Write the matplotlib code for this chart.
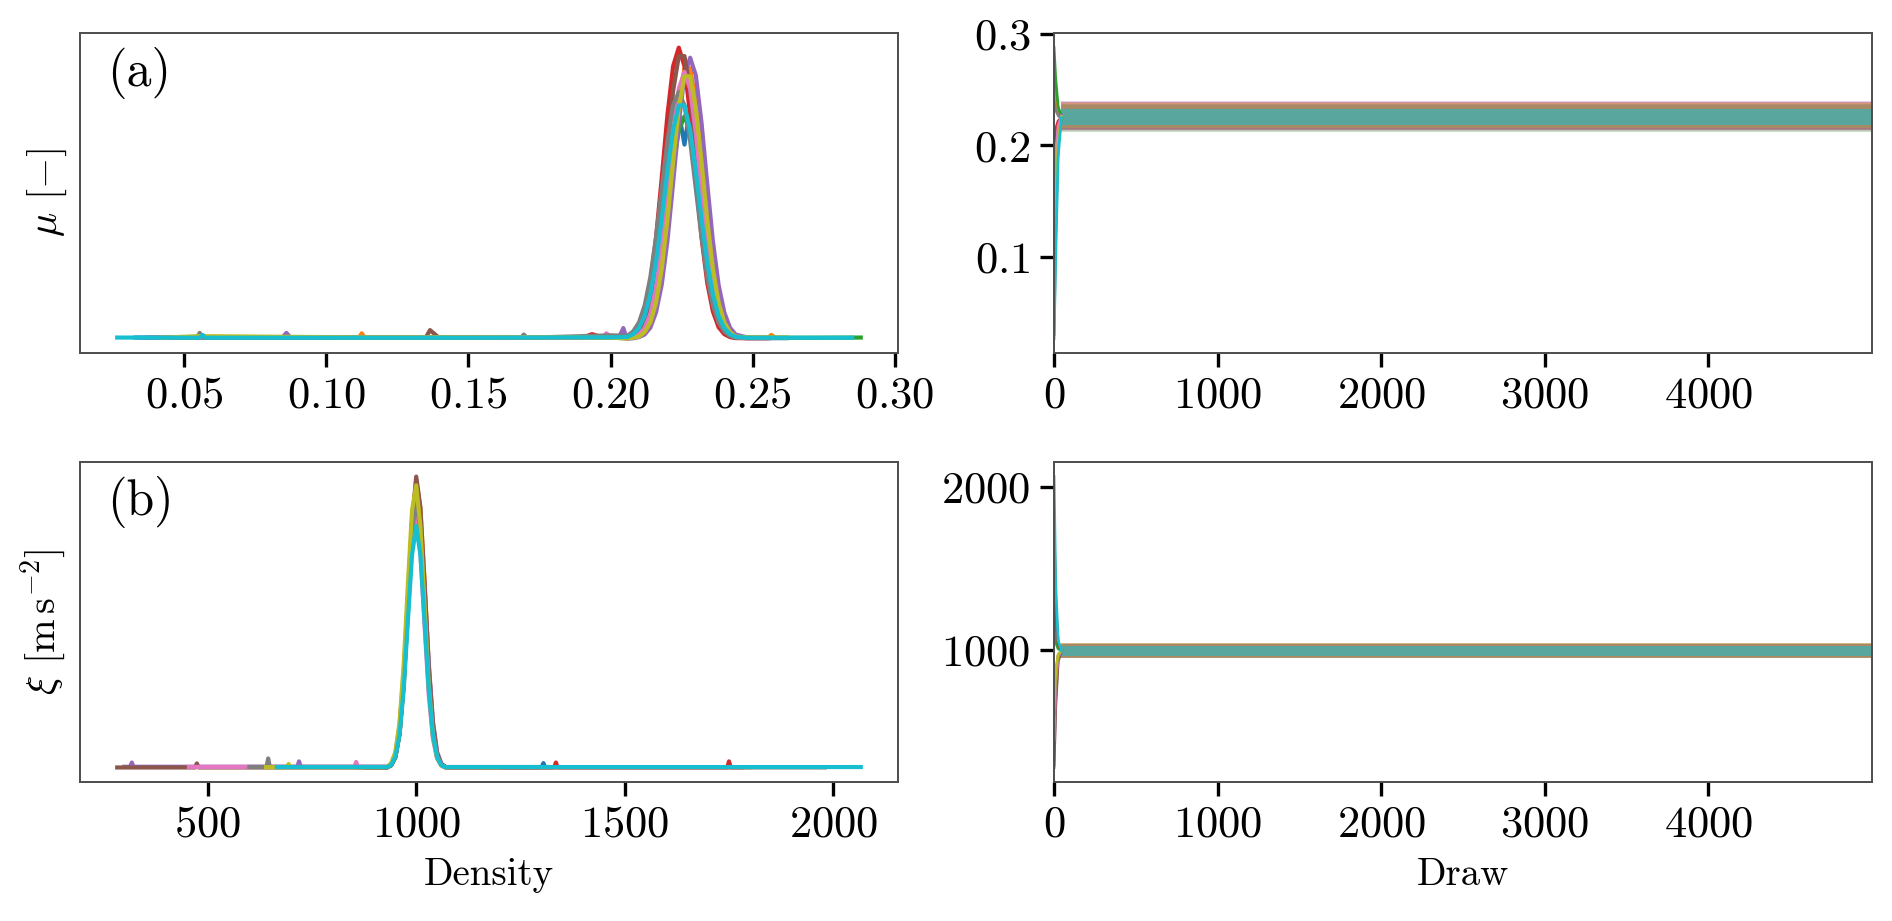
import matplotlib
matplotlib.use("Agg")
import matplotlib.pyplot as plt

plt.rcParams.update({
    "font.family": "serif",
    "font.serif": ["cmr10"],
    "mathtext.fontset": "cm",
    "axes.formatter.use_mathtext": True,
    "axes.unicode_minus": False,
})

N_CHAINS = 10
LAST_DRAW = 4999

# ---- mu : per-chain density (KDE) ----
mu_grid = [0.206, 0.208, 0.210, 0.212, 0.214, 0.216, 0.218, 0.220, 0.222, 0.224,
           0.226, 0.228, 0.230, 0.232, 0.234, 0.236, 0.238, 0.240, 0.242, 0.244]
mu_peak = [
    [0.1, 0.3, 0.9, 2.3, 5.4, 11.1, 20.1, 32.0, 44.5, 56.0, 48.0, 57.0, 44.5, 32.0, 20.1, 11.1, 5.4, 2.3, 0.9, 0.3],
    [0.05, 0.2, 0.5, 1.6, 4.1, 9.2, 17.8, 30.3, 45.0, 58.6, 66.9, 66.9, 58.6, 45.0, 30.3, 17.8, 9.2, 4.1, 1.6, 0.5],
    [0.1, 0.3, 0.8, 2.1, 5.1, 10.5, 19.1, 30.4, 42.2, 51.5, 55.0, 51.5, 42.2, 30.4, 19.1, 10.5, 5.1, 2.1, 0.8, 0.3],
    [0.36, 1.1, 2.8, 6.7, 13.8, 25.0, 39.7, 55.3, 67.4, 72.0, 67.4, 55.3, 39.7, 25.0, 13.8, 6.7, 2.8, 1.1, 0.36, 0.1],
    [0.02, 0.07, 0.35, 1.0, 2.7, 6.5, 13.3, 24.1, 38.4, 53.4, 65.1, 69.5, 65.1, 53.4, 38.4, 24.1, 13.3, 6.5, 2.7, 1.0],
    [0.2, 0.6, 1.7, 4.3, 9.6, 18.6, 31.6, 47.0, 61.2, 69.9, 69.9, 61.2, 47.0, 31.6, 18.6, 9.6, 4.3, 1.7, 0.6, 0.2],
    [0.07, 0.3, 1.0, 2.6, 6.1, 12.6, 22.9, 36.4, 50.7, 61.8, 66.0, 61.8, 50.7, 36.4, 22.9, 12.6, 6.1, 2.6, 1.0, 0.3],
    [0.7, 1.8, 4.0, 8.2, 15.2, 25.1, 37.0, 48.9, 57.7, 61.0, 57.7, 48.9, 37.0, 25.1, 15.2, 8.2, 4.0, 1.8, 0.7, 0.24],
    [0.07, 0.2, 0.5, 1.6, 4.0, 8.9, 17.3, 29.4, 43.7, 56.9, 64.9, 64.9, 56.9, 43.7, 29.4, 17.3, 8.9, 4.0, 1.6, 0.5],
    [0.4, 1.1, 2.6, 5.6, 10.9, 19.0, 29.6, 41.4, 51.6, 57.7, 57.7, 51.6, 41.4, 29.6, 19.0, 10.9, 5.6, 2.6, 1.1, 0.4],
]
mu_left_x = [
    [0.033, 0.090, 0.150, 0.200],
    [0.040, 0.1115, 0.1125, 0.1135, 0.160, 0.200],
    [0.050, 0.120, 0.190, 0.200],
    [0.045, 0.190, 0.1935, 0.197, 0.200, 0.203],
    [0.036, 0.0845, 0.0860, 0.0875, 0.140, 0.203, 0.2045, 0.2055],
    [0.060, 0.1350, 0.1365, 0.1395, 0.180, 0.200],
    [0.048, 0.150, 0.1975, 0.1985, 0.2005, 0.203],
    [0.038, 0.0545, 0.0555, 0.0565, 0.1685, 0.1695, 0.1705, 0.200],
    [0.042, 0.055, 0.110, 0.180, 0.200],
    [0.0265, 0.0555, 0.0565, 0.0575, 0.150, 0.200],
]
mu_left_y = [
    [0.25, 0.2, 0.2, 0.2],
    [0.2, 0.2, 1.3, 0.2, 0.2, 0.3],
    [0.2, 0.2, 0.2, 0.2],
    [0.2, 0.2, 1.1, 0.3, 0.6, 0.4],
    [0.2, 0.2, 1.4, 0.2, 0.2, 0.3, 2.6, 0.4],
    [0.2, 0.2, 2.1, 0.3, 0.2, 0.4],
    [0.2, 0.2, 0.3, 1.3, 0.3, 0.3],
    [0.2, 0.2, 1.4, 0.2, 0.2, 1.0, 0.2, 0.8],
    [0.2, 0.6, 0.3, 0.3, 0.2],
    [0.25, 0.2, 0.9, 0.2, 0.2, 0.3],
]
mu_right_x = [
    [0.248, 0.262], [0.248, 0.2555, 0.2565, 0.258], [0.250, 0.270, 0.288],
    [0.248, 0.255], [0.248, 0.252], [0.248, 0.256], [0.248, 0.253],
    [0.248, 0.258], [0.248, 0.262], [0.248, 0.270, 0.285],
]
mu_right_y = [
    [0.1, 0.1], [0.2, 0.2, 0.9, 0.2], [0.2, 0.2, 0.25],
    [0.1, 0.1], [0.3, 0.2], [0.1, 0.1], [0.1, 0.1],
    [0.2, 0.2], [0.3, 0.3], [0.2, 0.2, 0.2],
]

# ---- xi : per-chain density ----
xi_grid = [930, 940, 950, 960, 970, 980, 990, 1000, 1010, 1020, 1030, 1040, 1050, 1060, 1070]
xi_peak = [
    [0.2, 1.1, 4.2, 13.0, 31.2, 58.3, 84.7, 96, 84.7, 58.3, 31.2, 13.0, 4.2, 1.1, 0.2],
    [0.1, 0.8, 3.5, 11.5, 28.5, 55.5, 83.5, 99, 89.0, 64.0, 35.5, 15.5, 5.0, 1.3, 0.3],
    [0.2, 1.0, 3.9, 11.9, 28.6, 53.4, 77.6, 88, 77.6, 53.4, 28.6, 11.9, 3.9, 1.0, 0.2],
    [0.2, 1.0, 4.2, 12.8, 30.9, 57.7, 83.8, 95, 83.8, 57.7, 30.9, 12.8, 4.2, 1.0, 0.2],
    [0.2, 1.0, 3.8, 11.8, 29.5, 56.0, 80.5, 90, 84.0, 62.0, 36.0, 16.0, 5.5, 1.5, 0.3],
    [0.1, 0.8, 3.6, 11.8, 29.5, 56.5, 84.5, 100, 89.5, 63.5, 34.5, 14.8, 4.8, 1.2, 0.2],
    [0.3, 1.4, 5.0, 14.5, 33.0, 58.0, 81.0, 88, 74.0, 49.0, 25.0, 10.0, 3.2, 0.8, 0.1],
    [0.2, 1.0, 4.0, 12.4, 29.9, 55.8, 81.1, 92, 81.1, 55.8, 29.9, 12.4, 4.0, 1.0, 0.2],
    [0.3, 1.5, 5.4, 15.5, 35.5, 63.0, 88.5, 97, 83.0, 55.0, 28.0, 11.0, 3.5, 0.8, 0.1],
    [0.2, 0.9, 3.7, 11.2, 27.0, 50.4, 73.2, 83, 73.2, 50.4, 27.0, 11.2, 3.7, 0.9, 0.2],
]
xi_left_x = [
    [905, 925], [880, 926], [860, 926], [880, 926],
    [300, 314, 318, 322, 600, 715, 719, 723, 926],
    [283, 470, 474, 478, 926],
    [455, 852, 856, 860, 926],
    [600, 641, 645, 649, 926],
    [640, 690, 694, 698, 926],
    [666, 926],
]
xi_left_y = [
    [0.2, 0.2], [0.2, 0.2], [0.2, 0.2], [0.2, 0.2],
    [0.35, 0.35, 1.8, 0.35, 0.35, 0.35, 2.2, 0.35, 0.35],
    [0.1, 0.1, 1.5, 0.1, 0.1],
    [0.3, 0.3, 2.0, 0.3, 0.3],
    [0.3, 0.3, 3.2, 0.3, 0.3],
    [0.2, 0.2, 1.3, 0.2, 0.2],
    [0.25, 0.25],
]
xi_right_x = [
    [1075, 1301, 1305, 1309, 1320],
    [1075, 1800],
    [1075, 1130],
    [1075, 1331, 1335, 1339, 1746, 1750, 1754, 1780],
    [1075, 1150],
    [1080, 1300, 1980],
    [1075, 1140],
    [1075, 1300],
    [1075, 1200],
    [1075, 2066],
]
xi_right_y = [
    [0.2, 0.2, 1.6, 0.2, 0.2],
    [0.2, 0.2],
    [0.2, 0.2],
    [0.2, 0.2, 1.8, 0.2, 0.2, 2.2, 0.2, 0.2],
    [0.2, 0.2],
    [0.1, 0.15, 0.15],
    [0.2, 0.2],
    [0.25, 0.25],
    [0.2, 0.2],
    [0.25, 0.25],
]

# ---- traces: warm-up values per chain and the band each chain stays in ----
burn_draws = [0, 10, 25, 45]
mu_burn = [
    [0.05, 0.16, 0.21, 0.225], [0.26, 0.245, 0.23, 0.226], [0.288, 0.26, 0.235, 0.226],
    [0.20, 0.215, 0.222, 0.225], [0.10, 0.18, 0.215, 0.227], [0.03, 0.12, 0.20, 0.225],
    [0.15, 0.19, 0.218, 0.226], [0.24, 0.232, 0.227, 0.224], [0.06, 0.14, 0.205, 0.226],
    [0.0265, 0.10, 0.19, 0.225],
]
mu_lo = [0.2135, 0.2150, 0.2125, 0.2140, 0.2155, 0.2145, 0.2130, 0.2140, 0.2160, 0.2185]
mu_hi = [0.2375, 0.2395, 0.2370, 0.2390, 0.2400, 0.2365, 0.2385, 0.2360, 0.2380, 0.2330]

xi_burn = [
    [1250, 1080, 1020, 1000], [1800, 1300, 1050, 1000], [1130, 1050, 1010, 1000],
    [1780, 1250, 1040, 1000], [300, 700, 940, 1000], [283, 650, 930, 1000],
    [455, 800, 960, 1000], [600, 850, 970, 1000], [640, 870, 975, 1000],
    [2064, 1400, 1060, 1000],
]
xi_lo = [955, 958, 952, 954, 960, 956, 951, 957, 953, 968]
xi_hi = [1040, 1044, 1038, 1042, 1045, 1036, 1041, 1039, 1043, 1028]


def style(ax):
    for s in ax.spines.values():
        s.set_color("0.3")
        s.set_linewidth(0.7)
    ax.tick_params(length=5, width=1.2, color="k", labelsize=16, pad=3.5)


def density(ax, grid, peak, lx, ly, rx, ry):
    for i in range(N_CHAINS):
        ax.plot(lx[i] + grid + rx[i], ly[i] + peak[i] + ry[i], color=f"C{i}", lw=1.5)
    ax.set_yticks([])
    style(ax)


def trace(ax, burn, lo, hi):
    for i in range(N_CHAINS):
        ax.plot(burn_draws, burn[i], color=f"C{i}", lw=1.0)
        a = 0.55 if i == N_CHAINS - 1 else 0.3
        ax.fill_between([burn_draws[-1], LAST_DRAW], [lo[i], lo[i]], [hi[i], hi[i]],
                        color=f"C{i}", alpha=a, lw=0)
    ax.set_xlim(0, LAST_DRAW)
    ax.set_xticks([0, 1000, 2000, 3000, 4000])
    style(ax)


fig = plt.figure(figsize=(9.46, 4.605), dpi=200)
ax_a = fig.add_axes([0.0423, 0.6167, 0.4323, 0.3474])
ax_at = fig.add_axes([0.5571, 0.6167, 0.4323, 0.3474])
ax_b = fig.add_axes([0.0423, 0.1509, 0.4323, 0.3474])
ax_bt = fig.add_axes([0.5571, 0.1509, 0.4323, 0.3474])

density(ax_a, mu_grid, mu_peak, mu_left_x, mu_left_y, mu_right_x, mu_right_y)
density(ax_b, xi_grid, xi_peak, xi_left_x, xi_left_y, xi_right_x, xi_right_y)
trace(ax_at, mu_burn, mu_lo, mu_hi)
trace(ax_bt, xi_burn, xi_lo, xi_hi)

ax_a.set_xticks([0.05, 0.10, 0.15, 0.20, 0.25, 0.30])
ax_b.set_xticks([500, 1000, 1500, 2000])
ax_at.set_yticks([0.1, 0.2, 0.3])
ax_bt.set_yticks([1000, 2000])

ax_a.set_ylabel(r"$\mu$ [$-$]", fontsize=14.5)
ax_b.set_ylabel(r"$\xi$ [$\mathrm{m\,s^{-2}}$]", fontsize=14.5)
ax_b.set_xlabel("Density", fontsize=14)
ax_bt.set_xlabel("Draw", fontsize=14)

ax_a.text(0.033, 0.955, "(a)", transform=ax_a.transAxes, fontsize=18, va="top")
ax_b.text(0.033, 0.955, "(b)", transform=ax_b.transAxes, fontsize=18, va="top")

fig.savefig("out.png", dpi=200)
